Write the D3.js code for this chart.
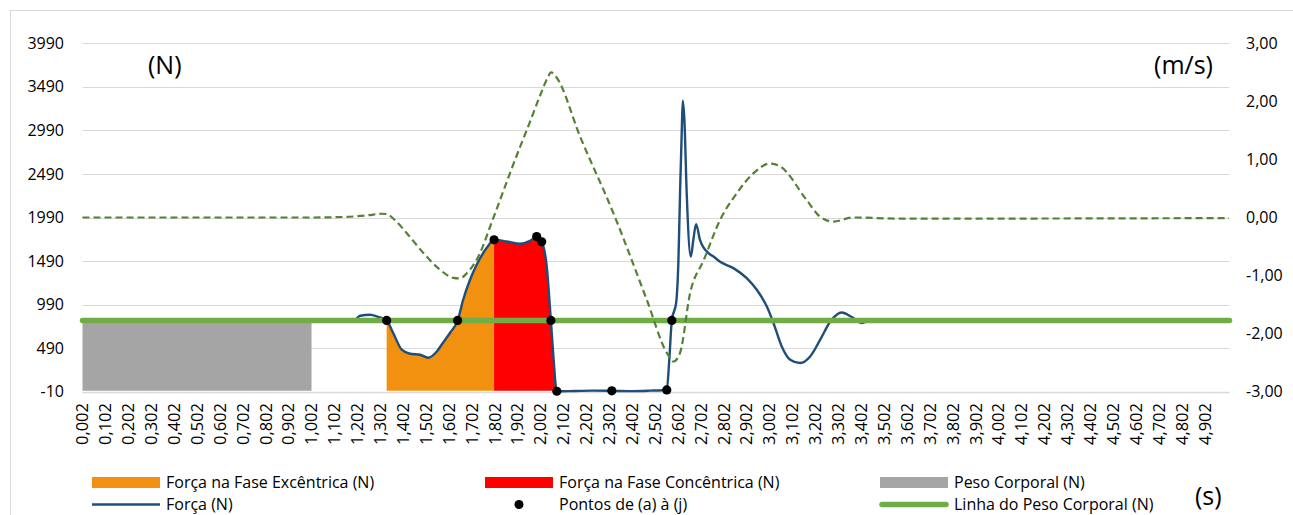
<!DOCTYPE html>
<html>
<head>
<meta charset="utf-8">
<script src="https://cdn.jsdelivr.net/npm/d3@7"></script>
<style>
  body { margin: 0; background: #fff; }
  text { font-family: "Open Sans", "Noto Sans", sans-serif; fill: #000; }
</style>
</head>
<body>
<script>

// force curve (s, N)
var forceTime = [0.002, 1.100, 1.190, 1.214, 1.257, 1.292, 1.330, 1.358, 1.396, 1.432, 1.476, 1.511, 1.549, 1.576, 1.607, 1.640,
    1.664, 1.694, 1.723, 1.767, 1.799, 1.854, 1.912, 1.956, 1.985, 2.007, 2.029, 2.047, 2.058, 2.073,
    2.150, 2.230, 2.313, 2.400, 2.480, 2.553, 2.564, 2.575, 2.594, 2.604, 2.611, 2.619, 2.623, 2.630, 2.640,
    2.658, 2.669, 2.681, 2.698, 2.735, 2.757, 2.786, 2.844, 2.902, 2.946, 2.990, 3.019, 3.055, 3.092,
    3.135, 3.179, 3.223, 3.267, 3.317, 3.361, 3.405, 3.427, 3.485, 5.008];
var forceValue = [808, 808, 815, 862, 873, 850, 808, 667, 472, 426, 414, 380, 452, 552, 667, 808,
    1046, 1275, 1447, 1642, 1734, 1714, 1688, 1722, 1771, 1711, 1427, 808, 395, -5,
    -2, 2, 0, -3, 2, 10, 357, 808, 1011, 1504, 2273, 3033, 3332, 3110, 2273,
    1542, 1734, 1914, 1734, 1581, 1542, 1481, 1409, 1294, 1160, 968, 778, 510, 357,
    319, 395, 587, 796, 900, 847, 778, 796, 808, 808];

// velocity curve (s, m/s)
var velTime = [0.002, 1.000, 1.150, 1.250, 1.310, 1.330, 1.367, 1.418, 1.490, 1.563, 1.621, 1.650, 1.680, 1.738,
    1.782, 1.825, 1.869, 1.913, 1.957, 2.001, 2.032, 2.048, 2.070, 2.175, 2.320, 2.466, 2.553, 2.582,
    2.611, 2.655, 2.715, 2.786, 2.859, 2.931, 3.004, 3.048, 3.164, 3.222, 3.281, 3.368, 3.572, 5.008];
var velValue = [0.00, 0.00, 0.01, 0.04, 0.065, 0.06, -0.05, -0.27, -0.61, -0.90, -1.04, -1.05, -0.96, -0.61,
    -0.155, 0.30, 0.77, 1.22, 1.66, 2.11, 2.40, 2.50, 2.42, 1.39, 0.075, -1.42, -2.33, -2.48,
    -2.33, -1.30, -0.73, -0.04, 0.42, 0.76, 0.93, 0.88, 0.30, 0.015, -0.07, 0.00, -0.02, -0.01];

// points (a) to (j)
var pointTime = [1.330, 1.640, 1.799, 1.985, 2.007, 2.047, 2.073, 2.313, 2.553, 2.575];
var pointValue = [808, 808, 1734, 1771, 1711, 808, -5, 0, 10, 808];

var bodyWeight = 808;
var weightStart = 0.002, weightEnd = 1.002;
var eccStart = 1.330, eccEnd = 1.799;
var conStart = 1.799, conEnd = 2.073;

var leftTicks = [-10, 490, 990, 1490, 1990, 2490, 2990, 3490, 3990];
var rightTicks = [-3, -2, -1, 0, 1, 2, 3];
var xTicks = d3.range(0, 50).map(function(i) { return 0.002 + i * 0.1; });

var legendItems = [
  {label: "Força na Fase Excêntrica (N)", kind: "rect", color: "#f2910f", col: 0, row: 0},
  {label: "Força (N)", kind: "line", color: "#1f4e79", col: 0, row: 1},
  {label: "Força na Fase Concêntrica (N)", kind: "rect", color: "#ff0000", col: 1, row: 0},
  {label: "Pontos de (a) à (j)", kind: "dot", color: "#000", col: 1, row: 1},
  {label: "Peso Corporal (N)", kind: "rect", color: "#a5a5a5", col: 2, row: 0},
  {label: "Linha do Peso Corporal (N)", kind: "thick", color: "#70ad47", col: 2, row: 1}
];

var width = 1293, height = 515;

var svg = d3.select("body").append("svg")
    .attr("width", width)
    .attr("height", height);

svg.append("rect")
    .attr("x", 10.5).attr("y", 10.5)
    .attr("width", 1300).attr("height", 520)
    .attr("fill", "#fff")
    .attr("stroke", "#d9d9d9");

var x = d3.scaleLinear().domain([0.002, 5.01]).range([82.5, 1229.5]);
var yL = d3.scaleLinear().domain([-10, 3990]).range([391.7, 43.3]);
var yR = d3.scaleLinear().domain([-3, 3]).range([391.7, 43.3]);

var force = forceTime.map(function(t, i) { return {t: t, v: forceValue[i]}; });
var vel = velTime.map(function(t, i) { return {t: t, v: velValue[i]}; });
var pts = pointTime.map(function(t, i) { return {t: t, v: pointValue[i]}; });

// gridlines
svg.append("g")
    .selectAll("line")
    .data(leftTicks)
    .enter().append("line")
    .attr("x1", x.range()[0]).attr("x2", x.range()[1])
    .attr("y1", function(d) { return Math.round(yL(d)) + 0.5; })
    .attr("y2", function(d) { return Math.round(yL(d)) + 0.5; })
    .attr("stroke", "#d9d9d9")
    .attr("stroke-width", function(d) { return d == -10 ? 1.5 : 1; });

// left axis labels
svg.append("g")
    .selectAll("text")
    .data(leftTicks)
    .enter().append("text")
    .attr("x", 64)
    .attr("y", function(d) { return yL(d); })
    .attr("dy", "0.35em")
    .attr("text-anchor", "end")
    .style("font-size", "16px")
    .text(function(d) { return d; });

// right axis labels
svg.append("g")
    .selectAll("text")
    .data(rightTicks)
    .enter().append("text")
    .attr("x", 1246)
    .attr("y", function(d) { return yR(d); })
    .attr("dy", "0.35em")
    .style("font-size", "16px")
    .text(function(d) { return d3.format(".2f")(d).replace(".", ",").replace("−", "-"); });

// x labels
svg.append("g")
    .selectAll("text")
    .data(xTicks)
    .enter().append("text")
    .attr("transform", function(d) { return "translate(" + x(d) + ",403) rotate(-90)"; })
    .attr("dy", "0.35em")
    .attr("text-anchor", "end")
    .style("font-size", "16.5px")
    .text(function(d) { return d3.format(".3f")(d).replace(".", ","); });

var area = d3.area()
    .x(function(d) { return x(d.t); })
    .y0(yL(0))
    .y1(function(d) { return yL(d.v); })
    .curve(d3.curveMonotoneX);

// body weight area
svg.append("path")
    .datum([{t: weightStart, v: bodyWeight}, {t: weightEnd, v: bodyWeight}])
    .attr("d", area.curve(d3.curveLinear))
    .attr("fill", "#a5a5a5");
area.curve(d3.curveMonotoneX);

svg.append("path")
    .datum(force.filter(function(d) { return d.t >= eccStart && d.t <= eccEnd; }))
    .attr("d", area)
    .attr("fill", "#f2910f");

svg.append("path")
    .datum(force.filter(function(d) { return d.t >= conStart && d.t <= conEnd; }))
    .attr("d", area)
    .attr("fill", "#ff0000");

var lineL = d3.line()
    .x(function(d) { return x(d.t); })
    .y(function(d) { return yL(d.v); })
    .curve(d3.curveMonotoneX);

var lineR = d3.line()
    .x(function(d) { return x(d.t); })
    .y(function(d) { return yR(d.v); })
    .curve(d3.curveMonotoneX);

svg.append("path")
    .datum(force)
    .attr("d", lineL)
    .attr("fill", "none")
    .attr("stroke", "#1f4e79")
    .attr("stroke-width", 2.4)
    .attr("stroke-linejoin", "round");

// body weight line
svg.append("line")
    .attr("x1", x.range()[0]).attr("x2", x.range()[1])
    .attr("y1", yL(bodyWeight)).attr("y2", yL(bodyWeight))
    .attr("stroke", "#70ad47")
    .attr("stroke-width", 5.5)
    .attr("stroke-linecap", "round");

svg.append("path")
    .datum(vel)
    .attr("d", lineR)
    .attr("fill", "none")
    .attr("stroke", "#548235")
    .attr("stroke-width", 2.2)
    .attr("stroke-dasharray", "7,4");

svg.append("g")
    .selectAll("circle")
    .data(pts)
    .enter().append("circle")
    .attr("cx", function(d) { return x(d.t); })
    .attr("cy", function(d) { return yL(d.v); })
    .attr("r", 4.6)
    .attr("fill", "#000");

// unit labels
svg.append("text").attr("x", 148).attr("y", 74).style("font-size", "25px").text("(N)");
svg.append("text").attr("x", 1213).attr("y", 74).attr("text-anchor", "end").style("font-size", "25px").text("(m/s)");
svg.append("text").attr("x", 1195).attr("y", 505).style("font-size", "25px").text("(s)");

// legend
var colX = [92, 485, 880], rowY = [482.5, 504.5];
var leg = svg.append("g")
    .selectAll("g")
    .data(legendItems)
    .enter().append("g")
    .attr("transform", function(d) { return "translate(" + colX[d.col] + "," + rowY[d.row] + ")"; });

leg.each(function(d) {
    var g = d3.select(this);
    if (d.kind == "rect") {
        g.append("rect").attr("x", 0).attr("y", -5.5).attr("width", 68).attr("height", 11).attr("fill", d.color);
    } else if (d.kind == "line") {
        g.append("line").attr("x1", 0).attr("x2", 68).attr("stroke", d.color).attr("stroke-width", 2.5);
    } else if (d.kind == "dot") {
        g.append("circle").attr("cx", 34).attr("r", 4.5).attr("fill", d.color);
    } else {
        g.append("line").attr("x1", 2).attr("x2", 66).attr("stroke", d.color).attr("stroke-width", 5.5).attr("stroke-linecap", "round");
    }
    g.append("text")
        .attr("x", 74)
        .attr("dy", "0.35em")
        .style("font-size", "16px")
        .text(d.label);
});

</script>
</body>
</html>
